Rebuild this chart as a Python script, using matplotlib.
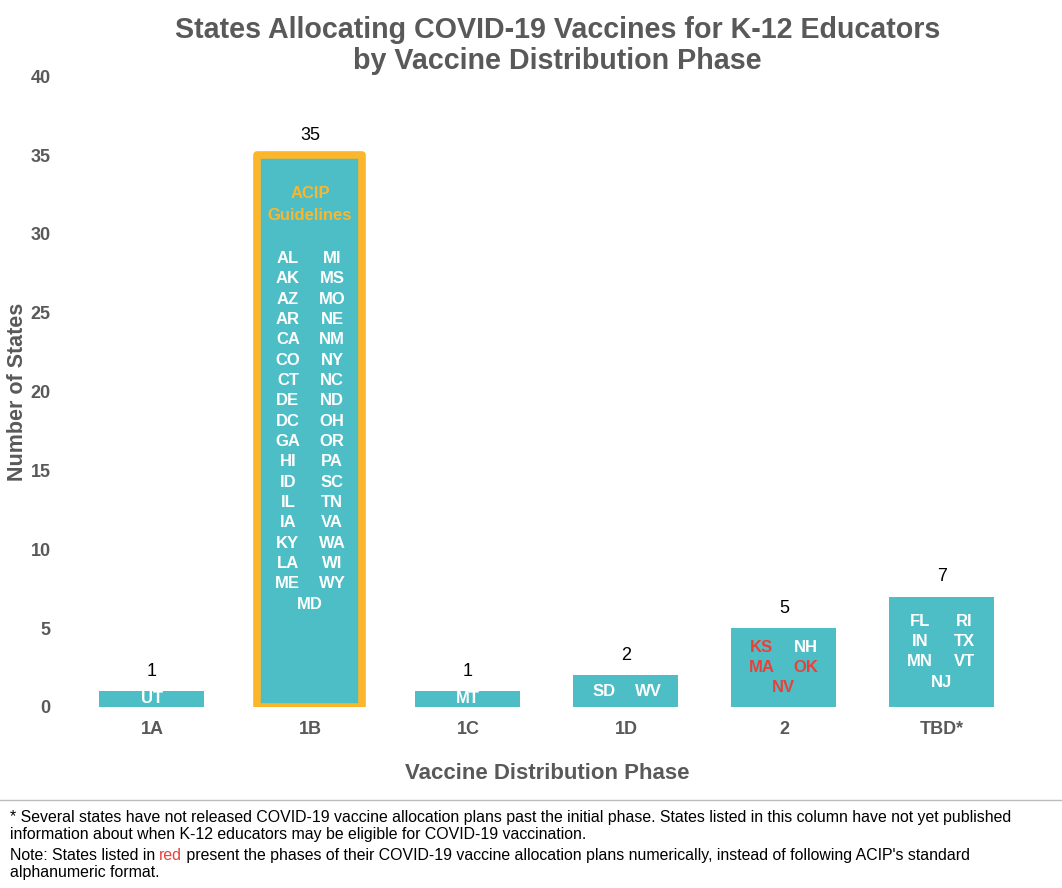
import matplotlib.pyplot as plt
from matplotlib.lines import Line2D

plt.rcParams['font.family'] = ['Liberation Sans', 'DejaVu Sans']

phases = ['1A', '1B', '1C', '1D', '2', 'TBD*']
counts = [1, 35, 1, 2, 5, 7]
states = [
    ['UT'],
    ['AL', 'MI', 'AK', 'MS', 'AZ', 'MO', 'AR', 'NE', 'CA', 'NM', 'CO', 'NY',
     'CT', 'NC', 'DE', 'ND', 'DC', 'OH', 'GA', 'OR', 'HI', 'PA', 'ID', 'SC',
     'IL', 'TN', 'IA', 'VA', 'KY', 'WA', 'LA', 'WI', 'ME', 'WY', 'MD'],
    ['MT'],
    ['SD', 'WV'],
    ['KS', 'NH', 'MA', 'OK', 'NV'],
    ['FL', 'RI', 'IN', 'TX', 'MN', 'VT', 'NJ'],
]
red_states = ['KS', 'MA', 'OK', 'NV']

teal = '#4DBEC6'
orange = '#FBB62C'
red = '#E8413A'
gray = '#595959'

fig = plt.figure(figsize=(10.62, 8.88), dpi=100)
ax = fig.add_axes([0.0687, 0.204, 0.8926, 0.710])

x = list(range(len(phases)))
bars = ax.bar(x, counts, width=0.665, color=teal, zorder=2)
# ACIP bar outline
bars[1].set_edgecolor(orange)
bars[1].set_linewidth(5.5)
bars[1].set_joinstyle('round')

ax.set_xlim(-0.5, 5.5)
ax.set_ylim(0, 40)
ax.set_yticks(range(0, 41, 5))
ax.set_xticks(x)
ax.set_xticklabels(phases)
for s in ax.spines.values():
    s.set_visible(False)
ax.tick_params(axis='both', length=0, labelsize=13, labelcolor=gray)
ax.tick_params(axis='y', pad=16)
ax.tick_params(axis='x', pad=10)
for t in ax.get_xticklabels() + ax.get_yticklabels():
    t.set_fontweight('bold')

ax.set_ylabel('Number of States', fontsize=15.5, fontweight='bold', color=gray, labelpad=2)
ax.set_xlabel('Vaccine Distribution Phase', fontsize=16, fontweight='bold', color=gray, labelpad=18)

# value labels
for xi, c in zip(x, counts):
    ax.annotate(str(c), (xi, c), xytext=(0, 8), textcoords='offset points',
                ha='center', va='bottom', fontsize=13, color='black')

# state abbreviations inside bars
row = 1.29
col = 0.14
for xi, c, sts in zip(x, counts, states):
    nrows = (len(sts) + 1) // 2
    if xi == 1:
        ax.text(xi, 32.57, 'ACIP', ha='center', va='center', fontsize=12,
                fontweight='bold', color=orange, zorder=3)
        ax.text(xi, 31.18, 'Guidelines', ha='center', va='center', fontsize=12,
                fontweight='bold', color=orange, zorder=3)
        y0 = 28.45
    else:
        y0 = c / 2 + (nrows - 1) * row / 2
    for i, st in enumerate(sts):
        r = i // 2
        if len(sts) == 1 or (i == len(sts) - 1 and len(sts) % 2 == 1):
            xx = xi
        else:
            xx = xi - col if i % 2 == 0 else xi + col
        ax.text(xx, y0 - r * row, st, ha='center', va='center', fontsize=12,
                fontweight='bold', color=red if st in red_states else 'white', zorder=3)

fig.text(0.525, 0.966, 'States Allocating COVID-19 Vaccines for K-12 Educators',
         ha='center', va='center', fontsize=20.6, fontweight='bold', color=gray)
fig.text(0.525, 0.931, 'by Vaccine Distribution Phase',
         ha='center', va='center', fontsize=20.6, fontweight='bold', color=gray)

fig.add_artist(Line2D([0, 1], [0.099, 0.099], color='#BBBBBB', linewidth=1))

fs = 11.45
fig.text(0.009, 0.079, '* Several states have not released COVID-19 vaccine allocation plans past the '
         'initial phase. States listed in this column have not yet published',
         ha='left', va='center', fontsize=fs)
fig.text(0.009, 0.060, 'information about when K-12 educators may be eligible for COVID-19 vaccination.',
         ha='left', va='center', fontsize=fs)
t1 = fig.text(0.009, 0.037, 'Note: States listed in ', ha='left', va='center', fontsize=fs)
t2 = ax.annotate('red', xycoords=t1, xy=(1, 0.5), va='center', ha='left',
                 fontsize=fs, color=red, annotation_clip=False)
ax.annotate(' present the phases of their COVID-19 vaccine allocation plans numerically, '
            'instead of following ACIP\'s standard', xycoords=t2, xy=(1, 0.5),
            va='center', ha='left', fontsize=fs, annotation_clip=False)
fig.text(0.009, 0.018, 'alphanumeric format.', ha='left', va='center', fontsize=fs)

fig.savefig('out.png', dpi=100)
